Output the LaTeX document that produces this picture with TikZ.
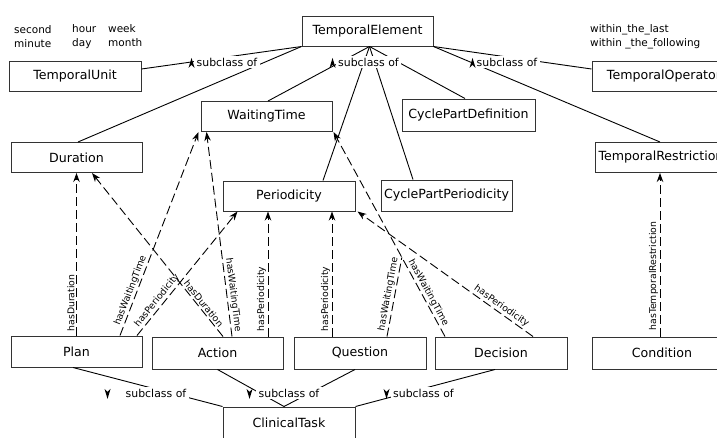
\documentclass[tikz,border=0pt]{standalone}
\usepackage{fontspec}
\setmainfont{DejaVu Sans}
\usetikzlibrary{arrows.meta,calc}
\begin{document}
\begin{tikzpicture}[x=1pt,y=-1pt,
  cls/.style={draw=black!80, line width=1pt, fill=white, minimum height=30,
    inner sep=0pt, font=\fontsize{12.6}{14}\selectfont},
  note/.style={anchor=base west, inner sep=0pt, font=\fontsize{10.5}{12}\selectfont},
  sub/.style={line width=0.9pt},
  subl/.style={fill=white, inner xsep=2.5pt, inner ysep=2pt, anchor=base,
    font=\fontsize{10.9}{12}\selectfont},
  prop/.style={line width=0.9pt, dash pattern=on 9pt off 4pt,
    -{Stealth[length=9pt,width=6.5pt]}},
  propl/.style={sloped, above, inner sep=1.5pt, font=\fontsize{9.3}{11}\selectfont},
]
\useasboundingbox (0,0) rectangle (717,437);

% classes
\node[cls, minimum width=131] (te)   at (367.5,31)  {TemporalElement};
\node[cls, minimum width=132] (tu)   at (75,76)     {TemporalUnit};
\node[cls, minimum width=144] (to)   at (664,76)    {TemporalOperator};
\node[cls, minimum width=131] (wt)   at (266.5,116.5) {WaitingTime};
\node[cls, minimum width=133, minimum height=32] (cpd) at (468.5,115) {CyclePartDefinition};
\node[cls, minimum width=131] (du)   at (76.5,157.5) {Duration};
\node[cls, minimum width=132] (tr)   at (661,157.5) {TemporalRestriction};
\node[cls, minimum width=132] (per)  at (289,196)   {Periodicity};
\node[cls, minimum width=131, minimum height=31] (cpp) at (446.5,195.5) {CyclePartPeriodicity};
\node[cls, minimum width=131, minimum height=31] (plan) at (76.5,351.5) {Plan};
\node[cls, minimum width=131, minimum height=32] (act)  at (217.5,353) {Action};
\node[cls, minimum width=132, minimum height=32] (q)    at (360,353)   {Question};
\node[cls, minimum width=132, minimum height=32] (dec)  at (501,353)   {Decision};
\node[cls, minimum width=140, minimum height=32] (cond) at (662,353)   {Condition};
\node[cls, minimum width=132, minimum height=32] (ct)   at (289,423)   {ClinicalTask};

% value lists
\node[note] (n1) at (14,33)  {second};
\node[note] (n2) at (14,47)  {minute};
\node[note] (n3) at (72,32)  {hour};
\node[note] (n4) at (72,46)  {day};
\node[note] (n5) at (108,32) {week};
\node[note] (n6) at (108,46) {month};
\node[note] (n7) at (590,32) {within\_the\_last};
\node[note] (n8) at (590,46) {within \_the\_following};

% subclass relations
\draw[sub] ([yshift=7pt]tu.east) -- (te.south west);
\draw[sub] ([xshift=1.5pt]du.north) -- (te.south west);
\draw[sub] ([xshift=1.5pt]wt.north) -- ([xshift=2pt]te.south);
\draw[sub] ([xshift=34pt]per.north) -- ([xshift=2pt]te.south);
\draw[sub] ([xshift=-33.5pt]cpp.north) -- ([xshift=2pt]te.south);
\draw[sub] ([xshift=-3.5pt]cpd.north) -- ([xshift=2pt]te.south);
\draw[sub] ([yshift=7pt]to.west) -- (te.south east);
\draw[sub] ([xshift=-1pt]tr.north) -- (te.south east);
\draw[sub] ([xshift=-3.5pt]plan.south) -- (ct.north west);
\draw[sub] (act.south) -- ([xshift=-5pt]ct.north);
\draw[sub] ([xshift=-5pt]q.south) -- ([xshift=-5pt]ct.north);
\draw[sub] ([xshift=-6pt]dec.south) -- (ct.north east);

% subclass labels with their arrow marks
\node[subl] (sA) at (227,66)   {subclass of};
\node[subl] (sB) at (368.5,66) {subclass of};
\node[subl] (sC) at (507,66)   {subclass of};
\node[subl] (sD) at (156,397)  {subclass of};
\node[subl] (sE) at (289,397)  {subclass of};
\node[subl] (sF) at (423.5,397) {subclass of};
\foreach \s/\d in {sA/-2.5,sB/-3,sC/-1.5}
  \fill ([xshift=\d pt,yshift=-1pt]\s.west) ++(-3,5) -- ++(3,-10) -- ++(3,10) -- ++(-3,-3) -- cycle;
\foreach \s/\d in {sD/-15.5,sE/-6.5,sF/-4}
  \fill ([xshift=\d pt,yshift=-1pt]\s.west) ++(-3,-5) -- ++(3,10) -- ++(3,-10) -- ++(-3,3) -- cycle;

% object properties
\draw[prop] (plan.north) -- (du.south)
  node[propl, pos=0.2] {hasDuration};
\draw[prop] ([xshift=43.5pt]plan.north) -- ([xshift=-2pt]wt.south west)
  node[propl, pos=0.21] {hasWaitingTime};
\draw[prop] ([xshift=60.5pt]plan.north) -- ([xshift=15pt]per.south west)
  node[propl, pos=0.25] {hasPeriodicity};
\draw[prop] ([xshift=5.5pt]act.north) -- ([xshift=15.5pt]du.south)
  node[propl, pos=0.18] {hasDuration};
\draw[prop] ([xshift=14.5pt]act.north) -- ([xshift=6pt]wt.south west)
  node[propl, pos=0.2] {hasWaitingTime};
\draw[prop] ([xshift=50.5pt]act.north) -- ([xshift=-21pt]per.south)
  node[propl, pos=0.3] {hasPeriodicity};
\draw[prop] ([xshift=-28pt]q.north) -- ([xshift=43pt]per.south)
  node[propl, pos=0.3] {hasPeriodicity};
\draw[prop] ([xshift=-56pt]dec.north) -- ([xshift=1pt]wt.south east)
  node[propl, pos=0.2] {hasWaitingTime};
% the Question link joins the Decision link on its way to WaitingTime
\coordinate (qjoin) at ($([xshift=-56pt]dec.north)!0.387!([xshift=1pt]wt.south east)$);
\draw[prop, -] ([xshift=27pt]q.north) -- (qjoin)
  node[propl, pos=0.52] {hasWaitingTime};
\draw[prop] ([xshift=32pt]dec.north) -- ([xshift=2pt]per.south east)
  node[propl, pos=0.2] {hasPeriodicity};
\draw[prop] ([xshift=-2pt]cond.north) -- ([xshift=-1pt]tr.south)
  node[propl, pos=0.37] {hasTemporalRestriction};
\end{tikzpicture}
\end{document}
